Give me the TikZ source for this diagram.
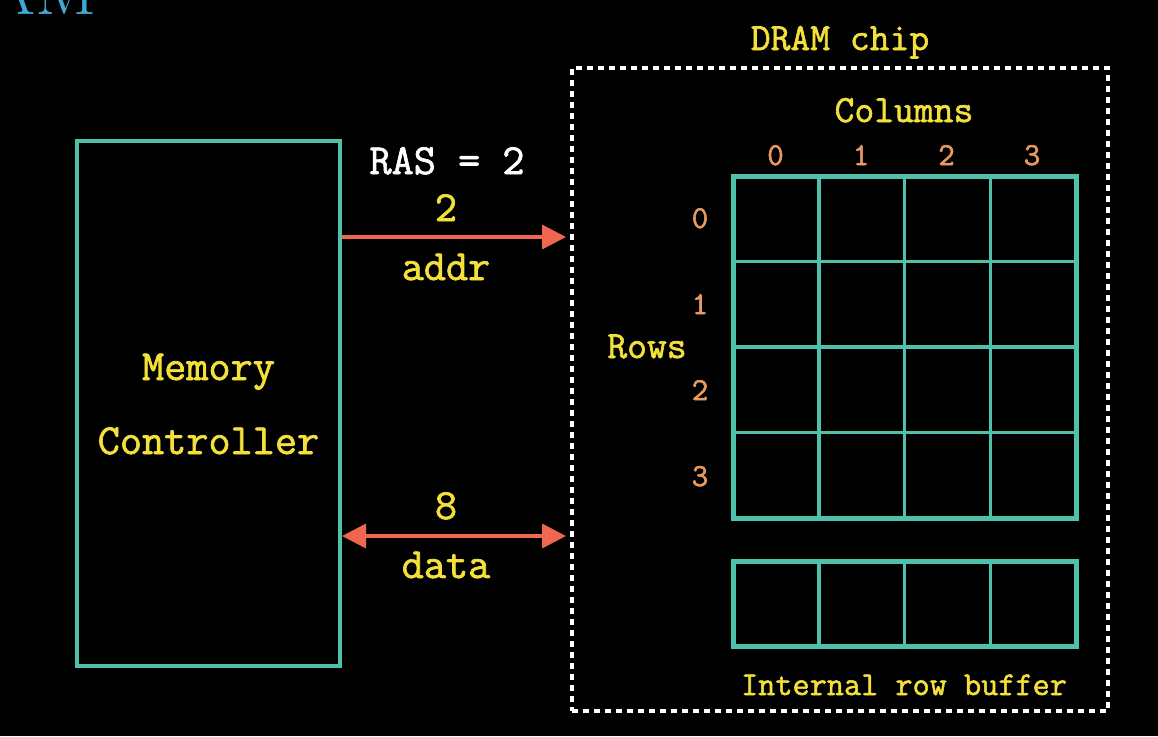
\documentclass[tikz,border=0pt]{standalone}
\usepackage{fontspec}
\newfontfamily\heavytt[FakeBold=1.6]{Latin Modern Mono}
\usetikzlibrary{arrows.meta}
\definecolor{mcteal}{HTML}{4FC0AA}
\definecolor{arrowred}{HTML}{F0674F}
\definecolor{txtyellow}{HTML}{F3E03A}
\definecolor{numorange}{HTML}{E89A60}
\definecolor{titleblue}{HTML}{3FA9D6}
\begin{document}
\begin{tikzpicture}[x=1pt,y=-1pt,
  box/.style={draw=mcteal,line width=4pt,rectangle,inner sep=0pt},
  chipbox/.style={draw=white,line width=3.5pt,dash pattern=on 6pt off 5pt,rectangle,inner sep=0pt},
  bigtxt/.style={text=txtyellow,font=\heavytt\fontsize{43}{50}\selectfont,anchor=base,inner sep=0pt},
  whitetxt/.style={text=white,font=\heavytt\fontsize{43}{50}\selectfont,anchor=base,inner sep=0pt},
  midtxt/.style={text=txtyellow,font=\heavytt\fontsize{38.5}{44}\selectfont,anchor=base,inner sep=0pt},
  smalltxt/.style={text=txtyellow,font=\heavytt\fontsize{33.3}{40}\selectfont,anchor=base,inner sep=0pt},
  numtxt/.style={text=numorange,font=\heavytt\fontsize{32}{38}\selectfont,anchor=base,inner sep=0pt},
  arr/.style={draw=arrowred,line width=3.5pt,-{Triangle[length=24pt,width=24pt]}},
  darr/.style={draw=arrowred,line width=3.5pt,{Triangle[length=24pt,width=24pt]}-{Triangle[length=24pt,width=24pt]}},
  outergrid/.style={draw=mcteal,line width=5pt},
  innergrid/.style={draw=mcteal,line width=3.5pt}]
\clip (0,0) rectangle (1158,736);
\fill[black] (0,0) rectangle (1158,736);
% title fragment
\node[text=titleblue,font=\fontsize{72}{80}\selectfont,anchor=base east,inner sep=0pt] (title) at (97,14) {AM};
% memory controller
\node[box,minimum width=263pt,minimum height=525pt] (mc) at (208.5,403.5) {};
\node[bigtxt] (mem) at (208.5,380) {Memory};
\node[bigtxt] (ctrl) at (208.5,454) {Controller};
% DRAM chip box
\node[chipbox,minimum width=536pt,minimum height=643pt] (chip) at (840,389.5) {};
\node[midtxt] (dramlbl) at (840,50) {DRAM chip};
% signals
\node[whitetxt] (ras) at (447,174) {RAS = 2};
\node[bigtxt] (two) at (446,221) {2};
\node[bigtxt] (addr) at (446,280) {addr};
\node[bigtxt] (eight) at (446,519) {8};
\node[bigtxt] (data) at (446,578) {data};
\coordinate (a1) at (mc.east |- 0,237);
\coordinate (a2) at (566,237);
\coordinate (d1) at (mc.east |- 0,536);
\coordinate (d2) at (566,536);
\draw[arr] (a1) -- (a2);
\draw[darr] (d1) -- (d2);
% array grid
\node[midtxt] (cols) at (904,122) {Columns};
\foreach \i/\x in {0/775.5,1/861,2/946.5,3/1032}{
  \node[numtxt] (c\i) at (\x,165) {\i};
}
\foreach \i/\y in {0/228,1/314,2/400,3/486}{
  \node[numtxt] (r\i) at (700,\y) {\i};
}
\node[midtxt] (rows) at (647,358) {Rows};
\foreach \x in {818.75,904.5,990.25}{
  \draw[innergrid] (\x,176) -- (\x,518);
  \draw[innergrid] (\x,561) -- (\x,646);
}
\foreach \y in {261.5,347,432.5}{
  \draw[innergrid] (733,\y) -- (1076,\y);
}
\draw[outergrid] (733,176) rectangle (1076,518);
\draw[outergrid] (733,561) rectangle (1076,646);
\node[smalltxt] (buf) at (904,695) {Internal row buffer};
\end{tikzpicture}
\end{document}
